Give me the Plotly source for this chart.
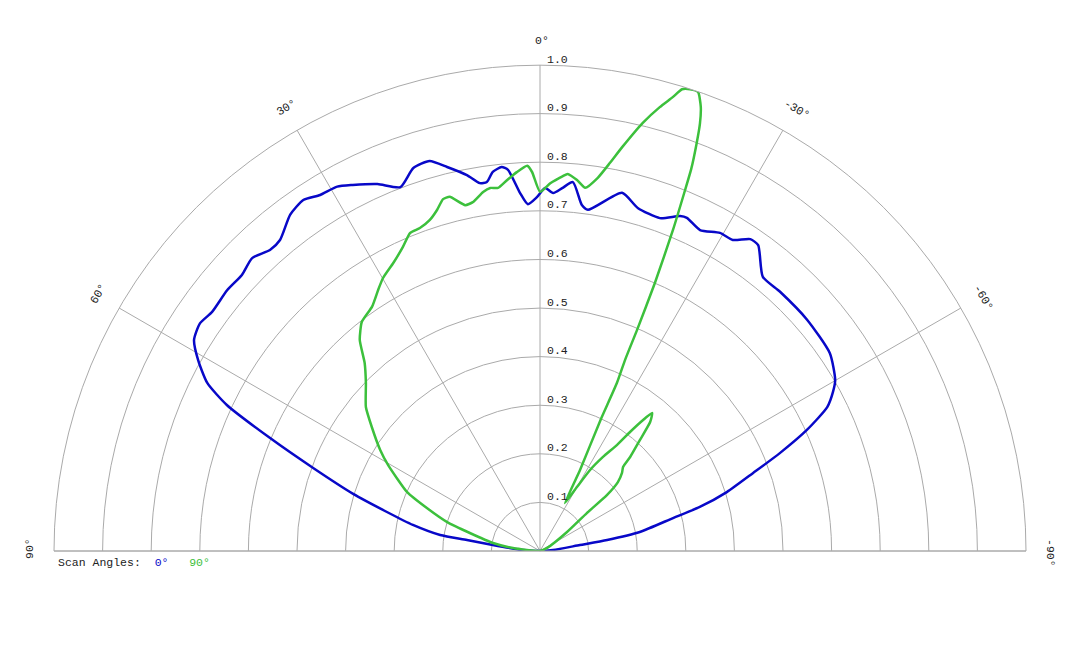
import numpy as np
import plotly.graph_objects as go

# scan angle 0 deg (blue), theta in degrees, r normalised
blue_theta = [90, 86, 82.7, 81.4, 80.9, 78.4, 75.7, 73.0, 69.9, 67.3,
              65.0, 63.2, 60.8, 58.6, 56.2, 53.9, 50.2, 47.2, 44.5, 41.9,
              39.9, 36.6, 34.0, 31.7, 29.1, 27.1, 23.9, 21.0, 18.3, 15.8,
              13.6, 11.0, 9.3, 8.2, 7.1, 5.7, 4.8, 3.2, 2.0, 0.5,
              -0.8, -2.1, -3.5, -5.1, -6.9, -8.0, -12.9, -15.9, -19.8, -22.7,
              -23.8, -26.5, -29.5, -31.8, -34.0, -35.5, -39.1, -42.8, -49.1, -55.7,
              -59.9, -61.5, -63.4, -65.6, -67.8, -69.9, -72.5, -74.6, -76.1, -79.2,
              -80.7, -81.5, -85.6, -90]
blue_r = [0.0, 0.04, 0.098, 0.152, 0.208, 0.267, 0.325, 0.402, 0.497, 0.602,
          0.711, 0.767, 0.806, 0.834, 0.842, 0.835, 0.838, 0.836, 0.845, 0.832,
          0.834, 0.862, 0.871, 0.861, 0.858, 0.846, 0.826, 0.802, 0.830, 0.834,
          0.813, 0.788, 0.767, 0.767, 0.786, 0.794, 0.787, 0.738, 0.714, 0.728,
          0.747, 0.737, 0.748, 0.762, 0.717, 0.709, 0.756, 0.734, 0.728, 0.747,
          0.749, 0.738, 0.752, 0.753, 0.774, 0.773, 0.727, 0.727, 0.727, 0.722,
          0.702, 0.686, 0.661, 0.603, 0.533, 0.467, 0.403, 0.341, 0.282, 0.209,
          0.140, 0.083, 0.027, 0.0]

# scan angle 90 deg (green)
green_theta = [90, 83.7, 80.3, 75.6, 72.7, 69.2, 66.1, 60.5, 57.7, 53.6,
               50.4, 46.0, 43.0, 40.5, 37.9, 34.5, 31.8, 29.9, 27.0, 24.3,
               22.2, 20.4, 18.4, 16.8, 15.4, 14.3, 12.2, 10.9, 9.0, 7.8,
               6.6, 5.1, 3.5, 1.9, 1.2, 0.0, -1.6, -3.5, -4.2, -5.7,
               -7.1, -8.8, -10.2, -11.5, -13.5, -15.1, -16.3, -17.1, -18.0, -19.0,
               -19.9, -20.5, -21.0, -21.6, -21.9, -22.5, -23.2, -23.7, -24.0, -24.6,
               -24.8, -26.3, -27.5, -30.0, -31.7, -33.8, -36.0, -37.1, -38.2, -39.1,
               -40.5, -42.0, -43.8, -44.7, -46.4, -48.5, -50.1, -51.0, -54.9, -66.8,
               -90]
green_r = [0.0, 0.056, 0.098, 0.149, 0.200, 0.249, 0.299, 0.359, 0.389, 0.430,
           0.465, 0.498, 0.529, 0.571, 0.597, 0.610, 0.632, 0.648, 0.665, 0.686,
           0.707, 0.709, 0.718, 0.733, 0.751, 0.752, 0.728, 0.731, 0.748, 0.754,
           0.752, 0.766, 0.781, 0.793, 0.780, 0.739, 0.757, 0.773, 0.778, 0.767,
           0.753, 0.777, 0.811, 0.848, 0.906, 0.946, 0.973, 0.994, 0.999, 0.999,
           0.972, 0.940, 0.900, 0.845, 0.800, 0.715, 0.600, 0.497, 0.430, 0.380,
           0.296, 0.186, 0.111, 0.152, 0.196, 0.233, 0.270, 0.307, 0.343, 0.366,
           0.349, 0.307, 0.268, 0.243, 0.233, 0.214, 0.180, 0.124, 0.068, 0.016,
           0.0]

radial_ticks = [0.1, 0.2, 0.3, 0.4, 0.5, 0.6, 0.7, 0.8, 0.9, 1.0]
radial_labels = ["0.1", "0.2", "0.3", "0.4", "0.5", "0.6", "0.7", "0.8", "0.9", "1.0"]
angle_ticks = [90, 60, 30, 0, -30, -60, -90]
angle_labels = ["90°", "60°", "30°", "0°", "-30°", "-60°", "-90°"]

BLUE = "#0808c8"
GREEN = "#3cc03c"
GRID = "#aaaaaa"
TXT = "#222222"
MONO = "Liberation Mono"
FS = 11.5

W, H = 1080, 648
OFF = 8  # page margin of the html body
dom_x = [(54 - OFF) / W, (1026 - OFF) / W]
dom_y = [1 - (551 - OFF) / H, 1 - (65 - OFF) / H]

fig = go.Figure()
fig.add_trace(go.Scatterpolar(r=blue_r, theta=blue_theta, mode="lines",
                              line=dict(color=BLUE, width=2.5, shape="spline", smoothing=0.6)))
fig.add_trace(go.Scatterpolar(r=green_r, theta=green_theta, mode="lines",
                              line=dict(color=GREEN, width=2.5, shape="spline", smoothing=0.5)))

fig.update_layout(
    width=W, height=H,
    margin=dict(l=0, r=0, t=0, b=0),
    paper_bgcolor="white",
    showlegend=False,
    polar=dict(
        domain=dict(x=dom_x, y=dom_y),
        sector=[0, 180],
        bgcolor="white",
        radialaxis=dict(range=[0, 1], dtick=0.1, showticklabels=False, ticks="",
                        showline=False, gridcolor=GRID, gridwidth=1),
        angularaxis=dict(rotation=90, direction="counterclockwise", dtick=30,
                         showticklabels=False, ticks="", showline=True,
                         linecolor=GRID, linewidth=1, gridcolor=GRID, gridwidth=1),
    ),
)

cx = (dom_x[0] + dom_x[1]) / 2 * W
cy = (1 - dom_y[0]) * H
R = (dom_y[1] - dom_y[0]) * H

# radial tick labels, just right of the 0 deg spoke, above each ring
for r, lab in zip(radial_ticks, radial_labels):
    fig.add_annotation(x=(cx + 5) / W, y=1 - (cy - r * R - 6) / H,
                       xref="paper", yref="paper", xanchor="left", yanchor="middle",
                       text=lab, showarrow=False,
                       font=dict(family=MONO, size=FS, color=TXT))

# rotated angle labels just outside the outer ring
rad = R + 25
for a, lab in zip(angle_ticks, angle_labels):
    t = np.radians(-a)
    px_ = cx - rad * np.sin(np.radians(a)) + 2 * np.cos(t)
    py_ = cy - rad * np.cos(np.radians(a)) + 2 * np.sin(t)
    fig.add_annotation(x=px_ / W, y=1 - py_ / H, xref="paper", yref="paper",
                       xanchor="center", yanchor="middle",
                       text=lab, showarrow=False, textangle=-a,
                       font=dict(family=MONO, size=FS, color=TXT))

nb = "\u00a0"
fig.add_annotation(
    x=(56 - OFF) / W, y=1 - (562 - OFF) / H, xref="paper", yref="paper",
    xanchor="left", yanchor="middle", showarrow=False,
    text=f"Scan{nb}Angles:{nb}{nb}<span style='color:{BLUE}'>0°</span>"
         f"{nb}{nb}{nb}<span style='color:{GREEN}'>90°</span>",
    font=dict(family=MONO, size=FS, color=TXT))

fig.write_html("out.html")
